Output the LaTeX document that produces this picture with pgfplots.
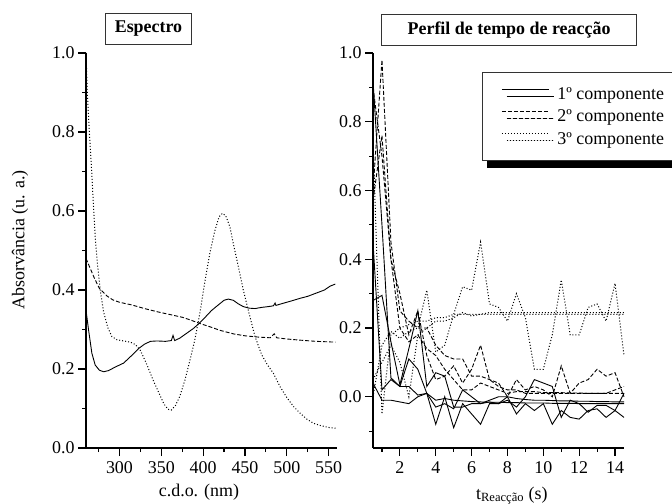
\documentclass[border=0pt]{standalone}
\usepackage{fontspec}
\setmainfont{Liberation Serif}
\usepackage{pgfplots}
\pgfplotsset{compat=1.18}
\usetikzlibrary{shadows}

\pgfplotstableread{
x y
260 0.349
263 0.30
267 0.24
271 0.21
276 0.197
281 0.193
287 0.196
295 0.205
305 0.215
315 0.235
323 0.252
330 0.263
337 0.270
345 0.271
355 0.270
362 0.272
364 0.285
366 0.272
372 0.278
380 0.290
388 0.302
395 0.315
402 0.330
410 0.348
418 0.362
425 0.374
430 0.377
436 0.374
442 0.365
448 0.358
455 0.354
462 0.353
470 0.356
478 0.358
484 0.360
486 0.367
487 0.361
495 0.366
505 0.372
516 0.379
525 0.384
535 0.392
545 0.400
552 0.410
558 0.415
}\specA

\pgfplotstableread{
x y
260 0.480
265 0.455
270 0.430
276 0.404
285 0.385
292 0.375
300 0.369
315 0.362
330 0.353
345 0.345
360 0.338
375 0.331
385 0.324
395 0.316
408 0.307
420 0.298
436 0.289
450 0.284
465 0.281
480 0.279
485 0.289
488 0.279
500 0.276
516 0.273
535 0.270
558 0.268
}\specB

\pgfplotstableread{
x y
260 1.000
261.6 0.898
264 0.800
266.8 0.700
269 0.610
271 0.535
274 0.460
277 0.400
281 0.345
286 0.305
291 0.282
297 0.274
305 0.271
313 0.268
319 0.262
325 0.247
332 0.215
340 0.173
347 0.140
353 0.112
358 0.098
362 0.096
367 0.108
372 0.130
378 0.170
384 0.220
390 0.273
396 0.340
402 0.420
408 0.493
414 0.550
419 0.585
423 0.594
427 0.588
432 0.560
436 0.518
442 0.460
448 0.400
455 0.340
462 0.282
470 0.236
477 0.210
484 0.189
492 0.155
500 0.128
508 0.105
516 0.088
524 0.073
532 0.0625
540 0.057
550 0.052
560 0.050
}\specC

% time profiles: columns t, s1..s4 (solid), d1..d3 (dashed), o1..o3 (dotted)
\pgfplotstableread{
t s1 s2 s3 s4 d1 d2 d3 o1 o2 o3
0.5 0.28 0.92 0.04 0.45 0.60 0.57 0.90 0.00 0.75 0.05
1.0 0.295 0.50 -0.01 0.02 0.98 0.76 0.70 0.15 -0.05 0.10
1.5 0.16 0.055 -0.01 0.05 0.45 0.40 0.40 0.19 0.18 0.15
2.0 0.035 0.03 -0.015 0.03 0.25 0.30 0.20 0.17 0.20 0.10
2.5 0.14 0.11 -0.02 0.03 0.22 0.18 0.16 0.19 0.21 0.00
3.0 0.25 0.08 0.00 0.005 0.20 0.25 0.18 0.20 0.22 0.18
3.5 0.03 0.01 0.01 0.01 0.20 0.12 0.14 0.31 0.22 0.20
4.0 0.07 -0.08 -0.03 -0.01 0.15 0.05 0.12 0.13 0.23 0.22
4.5 0.06 0.00 -0.02 -0.005 0.12 0.06 0.08 0.15 0.23 0.22
5.0 -0.03 -0.09 -0.035 -0.01 0.11 0.09 0.05 0.24 0.24 0.23
5.5 -0.03 -0.02 0.02 -0.012 0.11 0.04 0.02 0.32 0.24 0.245
6.0 -0.02 -0.05 0.00 -0.014 0.06 0.08 0.02 0.31 0.24 0.235
6.5 -0.02 -0.08 -0.02 -0.015 0.06 0.15 0.04 0.45 0.24 0.24
7.0 -0.01 -0.02 -0.015 -0.016 0.05 0.05 0.03 0.27 0.24 0.245
7.5 0.00 -0.02 -0.02 -0.016 0.04 0.03 0.02 0.26 0.24 0.245
8.0 0.00 0.00 -0.01 -0.017 0.00 0.02 0.01 0.22 0.24 0.245
8.5 -0.005 -0.05 -0.03 -0.017 0.05 0.02 0.015 0.30 0.24 0.245
9.0 -0.008 -0.02 0.00 -0.018 0.02 0.01 0.015 0.23 0.24 0.245
9.5 -0.01 -0.04 0.05 -0.018 0.03 0.01 0.015 0.08 0.24 0.245
10.0 -0.01 -0.02 0.04 -0.018 0.02 0.01 0.012 0.08 0.24 0.245
10.5 -0.011 -0.08 0.03 -0.019 0.00 0.01 0.012 0.18 0.24 0.245
11.0 -0.012 -0.04 -0.06 -0.019 0.09 0.01 0.012 0.34 0.24 0.245
11.5 -0.012 -0.06 -0.01 -0.019 0.01 0.01 0.011 0.18 0.24 0.245
12.0 -0.013 -0.065 -0.02 -0.02 0.04 0.01 0.011 0.18 0.24 0.245
12.5 -0.013 -0.04 -0.045 -0.02 0.05 0.01 0.010 0.26 0.24 0.245
13.0 -0.014 -0.035 -0.025 -0.02 0.08 0.01 0.010 0.27 0.24 0.245
13.5 -0.014 -0.06 -0.025 -0.02 0.06 0.01 0.010 0.22 0.24 0.245
14.0 -0.015 -0.04 -0.04 -0.02 0.07 0.02 0.010 0.33 0.24 0.245
14.5 -0.015 -0.06 0.01 -0.02 0.00 0.03 0.010 0.12 0.24 0.245
}\kin

\pgfplotsset{
  myaxis/.style={
    scale only axis, width=251bp, height=395bp,
    axis lines*=left,
    axis line style={-, line width=1.6bp, black},
    tick align=outside,
    major tick length=8bp, minor tick length=4bp,
    every tick/.style={line width=1.2bp, black},
    tick label style={font=\fontsize{18}{18}\selectfont},
    /pgf/number format/assume math mode=true,
    yticklabel style={/pgf/number format/.cd, fixed, fixed zerofill, precision=1},
    xticklabel style={yshift=-2bp},
    label style={font=\fontsize{18}{20}\selectfont},
    title style={font=\fontsize{18}{20}\selectfont\bfseries, draw=black!80, line width=0.8bp, fill=white, anchor=center, minimum height=31bp},
    clip=false,
  },
  solidk/.style={black, line width=0.9bp},
  dashk/.style={black, line width=0.9bp, dash pattern=on 4bp off 2bp},
  dotk/.style={black, line width=1bp, dash pattern=on 1bp off 2bp},
}

\begin{document}
\begin{tikzpicture}
\useasboundingbox (0,0) rectangle (672bp,504bp);

\begin{axis}[myaxis, at={(86bp,56bp)}, anchor=south west,
  xmin=260, xmax=560, ymin=0, ymax=1.0,
  xtick={300,350,...,550}, minor xtick={275,325,...,525},
  ytick={0,0.2,...,1.0}, minor ytick={0.1,0.3,...,0.9},
  xlabel={c.d.o. (nm)},
  xlabel style={at={(axis description cs:0.45,0)}, anchor=base, yshift=-48bp},
  ylabel={Absorvância (u. a.)},
  ylabel style={at={(axis description cs:-0.263,0.527)}, anchor=center},
  title={Espectro},
  title style={at={(axis description cs:0.249,1)}, yshift=18.5bp, inner xsep=9.5bp},
]
\addplot[solidk] table[x=x,y=y] {\specA};
\addplot[dashk] table[x=x,y=y] {\specB};
\addplot[dotk] table[x=x,y=y] {\specC};
\end{axis}

\begin{axis}[myaxis, at={(373bp,56bp)}, anchor=south west,
  xmin=0.5, xmax=14.5, ymin=-0.149, ymax=1.0,
  xtick={2,4,...,14}, minor xtick={1,3,...,13},
  ytick={0,0.2,...,1.0}, minor ytick={-0.1,0.1,0.3,...,0.9},
  xlabel={t\textsubscript{Reacção} (s)},
  xlabel style={at={(axis description cs:0.553,0)}, anchor=base, yshift=-51bp},
  title={Perfil de tempo de reacção},
  title style={at={(axis description cs:0.542,1)}, yshift=17bp, inner xsep=26bp},
  legend style={at={(axis description cs:0.434,0.952)}, anchor=north west,
    draw=black!80, line width=0.8bp, fill=white,
    drop shadow={shadow xshift=5bp, shadow yshift=-7bp, fill=black, opacity=1},
    font=\fontsize{18}{20}\selectfont,
    inner xsep=19bp, inner ysep=13bp, row sep=5bp,
    /tikz/every odd column/.append style={column sep=6bp}},
  legend cell align=left,
  legend image code/.code={\draw[#1] (0bp,5bp) -- (47bp,5bp);},
]
\addlegendimage{solidk}
\addlegendentry{1º componente\hspace{14bp}}
\addlegendimage{dashk}
\addlegendentry{2º componente\hspace{14bp}}
\addlegendimage{dotk}
\addlegendentry{3º componente\hspace{14bp}}
\addplot[solidk, forget plot] table[x=t,y=s1] {\kin};
\addplot[solidk, forget plot] table[x=t,y=s2] {\kin};
\addplot[solidk, forget plot] table[x=t,y=s3] {\kin};
\addplot[solidk, forget plot] table[x=t,y=s4] {\kin};
\addplot[dashk, forget plot] table[x=t,y=d1] {\kin};
\addplot[dashk, forget plot] table[x=t,y=d2] {\kin};
\addplot[dashk, forget plot] table[x=t,y=d3] {\kin};
\addplot[dotk, forget plot] table[x=t,y=o1] {\kin};
\addplot[dotk, forget plot] table[x=t,y=o2] {\kin};
\addplot[dotk, forget plot] table[x=t,y=o3] {\kin};
\end{axis}
\end{tikzpicture}
\end{document}
